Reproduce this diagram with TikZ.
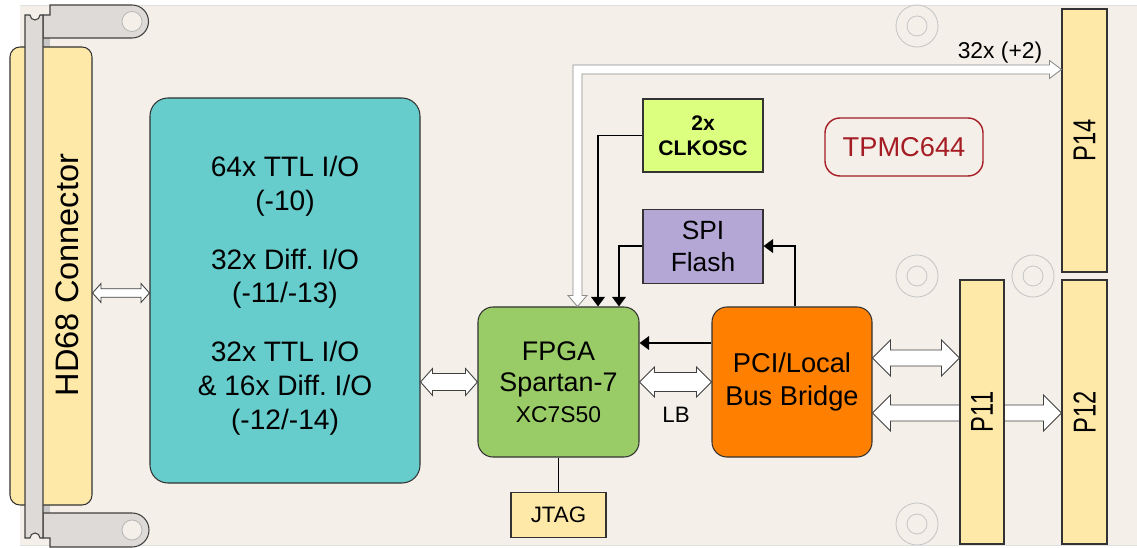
\documentclass[tikz,border=0pt]{standalone}
\usepackage{fontspec}
\setmainfont{Liberation Sans}
\usepackage{graphicx}
\usepackage{tikz}
\usetikzlibrary{arrows.meta, calc, positioning}
\definecolor{board}{HTML}{F4F0E9}
\definecolor{tealbox}{HTML}{66CCCC}
\definecolor{fpgagreen}{HTML}{99CC66}
\definecolor{bridgeorange}{HTML}{FF8000}
\definecolor{connyellow}{HTML}{FFE9A8}
\definecolor{clkgreen}{HTML}{DDFF80}
\definecolor{spiviolet}{HTML}{B4A7D6}
\definecolor{tewsred}{HTML}{A51C24}
\definecolor{bargray}{HTML}{DDDAD7}
\newcommand{\fsz}[2]{\fontsize{#1}{#2}\selectfont}
\frenchspacing

\begin{document}
\begin{tikzpicture}[x=0.2mm, y=-0.2mm,
  box/.style={draw=black!80, line width=0.6pt, align=center, inner sep=0pt},
  chip/.style={box, rounded corners=3mm},
  conn/.style={box, fill=connyellow, rotate=90, minimum height=9mm, minimum width=52.8mm, font=\fsz{18}{20}},
  ctrl/.style={-{Triangle[width=2.7mm, length=1.9mm]}, line width=1.1pt},
  hole/.style={draw=black!22, line width=0.5pt},
  panel/.style={fill=bargray, draw=black!75, line width=0.6pt},
  bus head/.store in=\bushead, bus shaft/.store in=\busshaft, bus len/.store in=\buslen,
  bus/.style={draw=black!75, fill=white, line width=0.5pt, to path={
    -- ($(\tikztostart)!\buslen!(\tikztotarget)!\bushead!90:(\tikztotarget)$)
    -- ($(\tikztostart)!\buslen!(\tikztotarget)!\busshaft!90:(\tikztotarget)$)
    -- ($(\tikztotarget)!\buslen!(\tikztostart)!\busshaft!-90:(\tikztostart)$)
    -- ($(\tikztotarget)!\buslen!(\tikztostart)!\bushead!-90:(\tikztostart)$)
    -- (\tikztotarget)
    -- ($(\tikztotarget)!\buslen!(\tikztostart)!\bushead!90:(\tikztostart)$)
    -- ($(\tikztotarget)!\buslen!(\tikztostart)!\busshaft!90:(\tikztostart)$)
    -- ($(\tikztostart)!\buslen!(\tikztotarget)!\busshaft!-90:(\tikztotarget)$)
    -- ($(\tikztostart)!\buslen!(\tikztotarget)!\bushead!-90:(\tikztotarget)$)
    -- cycle}}
]
\useasboundingbox (0,0) rectangle (1137,548);
\fill[white] (0,0) rectangle (1137,548);
\fill[board] (20,5) rectangle (1137,545);
\draw[black!12] (20,5) -- (1137,5) (20,545) -- (1137,545);

\foreach \hx/\hy in {917/26, 917/276, 1033/276, 917/524}
  \draw[hole] (\hx,\hy) circle[radius=4.2mm] (\hx,\hy) circle[radius=2mm];

\fill[black!22] (43,38) rectangle (50,513);
\node[box, fill=connyellow, rotate=90, rounded corners=2mm, minimum width=91.6mm, minimum height=16.4mm] (hd68) at (51,276) {};
\node[rotate=90, font=\fsz{18.5}{20}] (hd68text) at (67,275) {HD68 Connector};

\filldraw[panel] (43,15) -- (50,15) -- (50,5) -- (132,5) arc[start angle=-90, end angle=90, radius=16.5] -- (43,38) -- cycle;
\filldraw[panel] (43,513) -- (132,513) arc[start angle=-90, end angle=90, radius=17] -- (50,547) -- (50,538) -- (43,538) -- cycle;
\filldraw[panel] (25,15) -- (30,15) arc[start angle=180, end angle=0, radius=5] -- (43,15) -- (43,538) -- (40,538)
  arc[start angle=0, end angle=-180, radius=5] -- (25,538) -- cycle;
\filldraw[fill=board, draw=black!30] (132,21.5) circle[radius=2mm] (132,530) circle[radius=2mm];

\node[chip, fill=tealbox, rounded corners=3.6mm, minimum width=54mm, minimum height=77mm, font=\fsz{16}{19.3}] (teal) at (285,290.5)
  {\rule{0pt}{17.5pt}64x TTL I/O\\(-10)\\[5mm]32x Diff. I/O\\(-11/-13)\\[5mm]32x TTL I/O\\\& 16x Diff. I/O\\(-12/-14)};
\node[chip, fill=fpgagreen, minimum width=32.2mm, minimum height=30mm, font=\fsz{15.3}{17.5}] (fpga) at (558.5,382)
  {FPGA\\Spartan-7\\{\fsz{13}{15}XC7S50}};
\node[chip, fill=bridgeorange, minimum width=32mm, minimum height=30mm, font=\fsz{15.5}{18.7}] (bridge) at (792,382)
  {PCI/Local\\Bus Bridge};
\node[box, fill=connyellow, minimum width=19mm, minimum height=9mm, font=\fsz{12.7}{15}, below=6.8mm of fpga] (jtag) {JTAG};
\node[box, fill=clkgreen, minimum width=24mm, minimum height=14.6mm, font=\bfseries\fsz{12}{14.2}] (clk) at (703,135.5) {2x\\CLKOSC};
\node[box, fill=spiviolet, minimum width=24mm, minimum height=14.8mm, font=\fsz{15}{18.2}, below=7.2mm of clk] (spi) {SPI\\Flash};
\node[draw=tewsred, text=tewsred, rounded corners=3mm, line width=0.8pt, minimum width=31.6mm, minimum height=11.6mm, font=\fsz{15.5}{18}] (tpmc) at (904,147) {TPMC644};
\node[conn, minimum width=52.6mm] (p14) at (1084.5,140.5) {\scalebox{0.75}[1]{P14}};
\node[conn] (p12) at (1084.5,412) {\scalebox{0.75}[1]{P12}};

\node[font=\fsz{12.7}{15}] (lb) at (676,415) {LB};
\node[font=\fsz{13}{15}] (buslabel) at (1000,53) {32x (+2)};

\draw[bus, bus head=1.9mm, bus shaft=0.85mm, bus len=1.7mm] (hd68.south |- 0,293) to (teal.west |- 0,293);
\draw[bus, bus head=2.7mm, bus shaft=1.7mm, bus len=2.4mm] (teal.east |- fpga.west) to (fpga.west);
\draw[bus, bus head=3mm, bus shaft=1.9mm, bus len=3mm] (fpga.east) to (bridge.west);
\draw[bus, bus head=3.6mm, bus shaft=1.6mm, bus len=3.6mm] (bridge.east |- 0,413) to (p12.north |- 0,413);

\node[conn, minimum height=8.8mm] (p11) at (982,412) {\scalebox{0.75}[1]{P11}};
\draw[bus, bus head=3.6mm, bus shaft=1.6mm, bus len=3.6mm] (bridge.east |- 0,358) to (p11.north |- 0,358);

\coordinate (pin) at (p14.north |- 0,69.5);
\coordinate (fin) at (fpga.north -| 577.5,0);
\filldraw[fill=white, draw=black!45, line width=0.5pt] (pin) -- ($(pin)+(-12,-9)$) -- ($(pin)+(-12,-4.5)$)
  -- ($(fin |- pin)+(-4.5,-4.5)$) -- ($(fin)+(-4.5,-11)$) -- ($(fin)+(-9.5,-11)$) -- (fin)
  -- ($(fin)+(9.5,-11)$) -- ($(fin)+(4.5,-11)$) -- ($(fin |- pin)+(4.5,4.5)$)
  -- ($(pin)+(-12,4.5)$) -- ($(pin)+(-12,9)$) -- cycle;

\draw[ctrl] (clk.west) -| (fpga.north -| 598,0);
\draw[ctrl] (spi.west) -| (fpga.north -| 619,0);
\draw[ctrl] (bridge.north -| 795,0) |- (spi.east);
\draw[ctrl] (bridge.west |- 0,343) -- (fpga.east |- 0,343);
\draw[line width=0.6pt] (fpga) -- (jtag);
\end{tikzpicture}
\end{document}
